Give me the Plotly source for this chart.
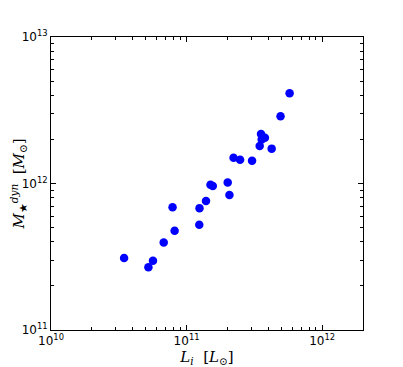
import plotly.graph_objects as go

# luminosity L_i [L_sun] and dynamical stellar mass [M_sun]
lum = [3.46e10, 5.23e10, 5.65e10, 6.78e10, 7.88e10, 8.16e10, 1.24e11, 1.245e11,
       1.39e11, 1.50e11, 1.56e11, 2.01e11, 2.07e11, 2.22e11, 2.48e11, 3.04e11,
       3.46e11, 3.54e11, 3.58e11, 3.78e11, 4.24e11, 4.93e11, 5.75e11]
mass = [3.10e11, 2.68e11, 2.97e11, 3.96e11, 6.88e11, 4.75e11, 5.22e11, 6.79e11,
        7.60e11, 9.80e11, 9.60e11, 1.016e12, 8.36e11, 1.50e12, 1.45e12, 1.43e12,
        1.80e12, 2.18e12, 2.00e12, 2.05e12, 1.73e12, 2.88e12, 4.13e12]

x_ticks = [1e10, 1e11, 1e12]
x_labels = ["10<sup>10</sup>", "10<sup>11</sup>", "10<sup>12</sup>"]
y_ticks = [1e11, 1e12, 1e13]
y_labels = ["10<sup>11</sup>", "10<sup>12</sup>", "10<sup>13</sup>"]

x_minor = [m * 10 ** e for e in (10, 11) for m in range(2, 10)] + [2e12]
y_minor = [m * 10 ** e for e in (11, 12) for m in range(2, 10)]

TEXT = "#000000"
TITLE_FONT = dict(family="DejaVu Serif", size=15, color=TEXT)

fig = go.Figure(
    go.Scatter(
        x=lum,
        y=mass,
        mode="markers",
        marker=dict(color="#0000ff", size=8.5, line=dict(width=0)),
        showlegend=False,
    )
)

axis_common = dict(
    type="log",
    automargin=False,
    showgrid=False,
    zeroline=False,
    showline=True,
    linecolor=TEXT,
    linewidth=1,
    mirror="allticks",
    ticks="inside",
    ticklen=5,
    tickcolor=TEXT,
    tickfont=dict(family="DejaVu Sans", size=12, color=TEXT),
)

fig.update_xaxes(
    **axis_common,
    range=[10, 12.301],
    tickvals=x_ticks,
    ticktext=x_labels,
    minor=dict(ticks="inside", ticklen=3, tickcolor=TEXT, showgrid=False,
               tickmode="array", tickvals=x_minor),
    title=dict(text="<i>L<sub>i</sub></i>  [<i>L</i><sub>⊙</sub>]", font=TITLE_FONT, standoff=0),
)
fig.update_yaxes(
    **axis_common,
    range=[11, 13],
    tickvals=y_ticks,
    ticktext=y_labels,
    minor=dict(ticks="inside", ticklen=3, tickcolor=TEXT, showgrid=False,
               tickmode="array", tickvals=y_minor),
    title=dict(text="<i>M</i><sub>★</sub><sup><i>dyn</i></sup>  [<i>M</i><sub>⊙</sub>]", font=TITLE_FONT, standoff=0),
)

# the page body adds an 8px offset, so the figure is sized to fit the window
fig.update_layout(
    width=395,
    height=359,
    margin=dict(l=43, r=40, t=29, b=37),
    paper_bgcolor="#ffffff",
    plot_bgcolor="#ffffff",
)

fig.write_html("out.html")
